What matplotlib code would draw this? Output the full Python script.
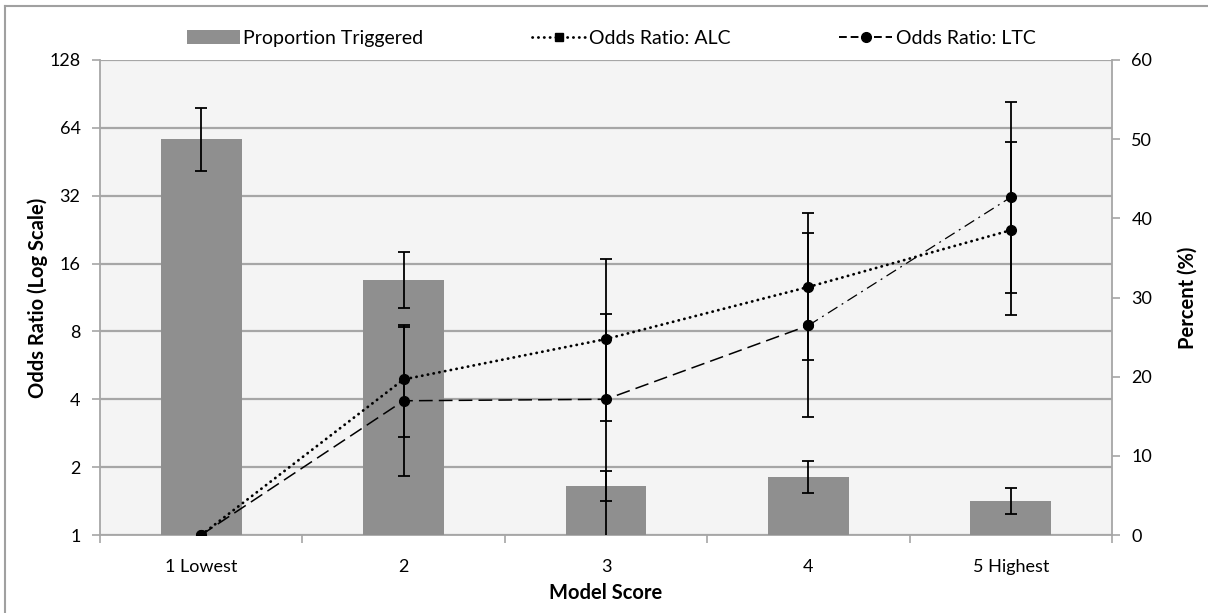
"""
Model score vs. trigger proportion and odds ratios (ALC / LTC)
"""

import matplotlib
matplotlib.use("Agg")
import matplotlib.pyplot as plt
from matplotlib.lines import Line2D
from matplotlib.patches import Patch
from matplotlib.ticker import FixedLocator
import numpy as np

plt.rcParams['font.family'] = ['Lato', 'DejaVu Sans']

# 数据
categories = ['1 Lowest', '2', '3', '4', '5 Highest']

pct_triggered = [50.0, 32.2, 6.2, 7.3, 4.3]
pct_err = [4.0, 3.5, 1.9, 2.0, 1.6]

or_alc = [1.0, 4.9, 7.4, 12.6, 22.5]
alc_low = [1.0, 2.73, 3.2, 6.0, 9.46]
alc_high = [1.0, 8.5, 16.7, 26.7, 55.2]

or_ltc = [1.0, 3.94, 4.0, 8.5, 31.5]
ltc_low = [1.0, 1.83, 0.9, 3.35, 11.9]
ltc_high = [1.0, 8.4, 9.6, 21.8, 83.6]

left_ticks = [1, 2, 4, 8, 16, 32, 64, 128]
right_ticks = [0, 10, 20, 30, 40, 50, 60]

GRID = '#a6a6a6'
BAR = '#8f8f8f'
BG = '#f4f4f4'
TICK_FS = 13
LABEL_FS = 14.5

fig = plt.figure(figsize=(12.08, 6.13), dpi=100)
pos = [100 / 1208, 78 / 613, 1012 / 1208, 475 / 613]

x = np.arange(len(categories))

# 底层：背景 + 对数网格
ax = fig.add_axes(pos)
ax.set_facecolor(BG)
ax.set_yscale('log', base=2)
ax.set_ylim(1, 128)
ax.set_xlim(-0.5, len(categories) - 0.5)
ax.yaxis.set_major_locator(FixedLocator(left_ticks))
ax.yaxis.set_minor_locator(FixedLocator([]))
ax.set_yticklabels([str(t) for t in left_ticks])
ax.grid(axis='y', color=GRID, linewidth=1.6)
ax.set_axisbelow(True)
ax.set_xticks(x)
ax.set_xticklabels(categories)
ax.set_xticks(np.arange(len(categories) + 1) - 0.5, minor=True)
ax.tick_params(axis='x', which='major', length=0, pad=17, labelsize=TICK_FS)
ax.tick_params(axis='x', which='minor', length=6, color=GRID, width=1.2)
ax.tick_params(axis='y', which='major', length=6, color=GRID, width=1.2, labelsize=TICK_FS, pad=8)
for side in ['top', 'right']:
    ax.spines[side].set_visible(False)
for side in ['left', 'bottom']:
    ax.spines[side].set_color(GRID)
    ax.spines[side].set_linewidth(1.3)
ax.set_xlabel('Model Score', fontweight='bold', fontsize=LABEL_FS, labelpad=6)
ax.set_ylabel('Odds Ratio (Log Scale)', fontweight='bold', fontsize=LABEL_FS, labelpad=1)

# 中层：柱状图（右轴百分比）
axb = ax.twinx()
axb.bar(x, pct_triggered, width=0.4, color=BAR, zorder=2,
        yerr=pct_err, error_kw=dict(ecolor='black', elinewidth=1.3, capsize=4, capthick=1.3))
axb.set_ylim(0, 60)
axb.set_yticks(right_ticks)
axb.tick_params(axis='y', length=6, color=GRID, width=1.2, labelsize=TICK_FS, pad=8)
for side in ['top', 'left', 'bottom']:
    axb.spines[side].set_visible(False)
axb.spines['right'].set_color(GRID)
axb.spines['right'].set_linewidth(1.3)
axb.set_ylabel('Percent (%)', fontweight='bold', fontsize=LABEL_FS, labelpad=18)

# 顶层：比值比折线
axl = fig.add_axes(pos, sharex=ax, sharey=ax)
axl.patch.set_visible(False)
axl.axis('off')

err_kw = dict(fmt='none', ecolor='black', elinewidth=1.3, capsize=4, capthick=1.3)
alc = np.array(or_alc)
ltc = np.array(or_ltc)
axl.errorbar(x[1:], alc[1:], yerr=[alc[1:] - np.array(alc_low[1:]), np.array(alc_high[1:]) - alc[1:]], **err_kw)
axl.errorbar(x[1:], ltc[1:], yerr=[ltc[1:] - np.array(ltc_low[1:]), np.array(ltc_high[1:]) - ltc[1:]], **err_kw)

axl.plot(x, or_alc, color='black', linewidth=2.0, linestyle=(0, (0.1, 2.0)),
         dash_capstyle='round', marker='o', markersize=7, zorder=3)
axl.plot(x[:4], or_ltc[:4], color='black', linewidth=1.1, linestyle=(0, (9, 4)),
         marker='o', markersize=7, zorder=3)
axl.plot(x[3:], or_ltc[3:], color='black', linewidth=0.9, linestyle=(0, (9, 4, 1.5, 4)),
         marker='o', markersize=7, zorder=3)
axl.set_ylim(1, 128)

# 图例
handles = [
    Patch(facecolor=BAR, edgecolor='none'),
    Line2D([], [], color='black', linewidth=2.0, linestyle=(0, (0.1, 2.0)),
           dash_capstyle='round', marker='s', markersize=6),
    Line2D([], [], color='black', linewidth=1.4, linestyle=(0, (4, 2)),
           marker='o', markersize=7),
]
labels = ['Proportion Triggered', 'Odds Ratio: ALC', 'Odds Ratio: LTC']
fig.legend(handles, labels, loc='center', bbox_to_anchor=(0.506, 0.938), ncol=3,
           frameon=False, fontsize=14, handlelength=2.7, handletextpad=0.2,
           columnspacing=5.6)

# 外框（上、左）
fig.add_artist(Line2D([5 / 1208, 5 / 1208], [0, 1 - 6 / 613], transform=fig.transFigure,
                      color='#a0a0a0', linewidth=1.5))
fig.add_artist(Line2D([5 / 1208, 1], [1 - 6 / 613, 1 - 6 / 613], transform=fig.transFigure,
                      color='#a0a0a0', linewidth=1.5))

fig.savefig('out.png', dpi=100, facecolor='white')
